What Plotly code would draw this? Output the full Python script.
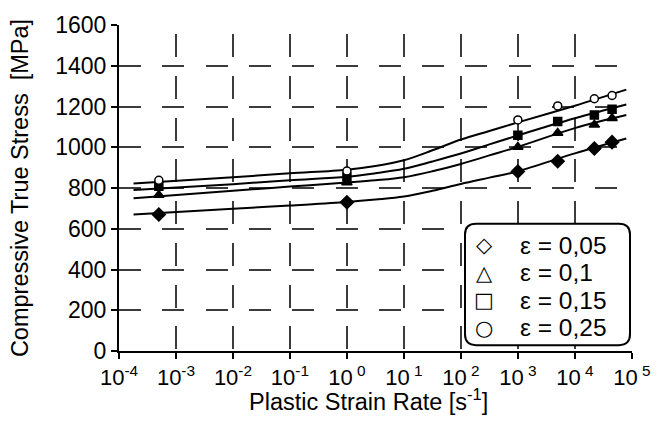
import plotly.graph_objects as go

# Strain-rate axis (s^-1) and tick labels
decades = [-4, -3, -2, -1, 0, 1, 2, 3, 4, 5]
tick_vals = [10.0 ** d for d in decades]
tick_text = ["10<sup>-4</sup>", "10<sup>-3</sup>", "10<sup>-2</sup>", "10<sup>-1</sup>",
             "10<sup>\u00a00</sup>", "10<sup>\u00a01</sup>", "10<sup>\u00a02</sup>",
             "10<sup>\u00a03</sup>", "10<sup>\u00a04</sup>", "10<sup>\u00a05</sup>"]

# Measured points: strain rate vs compressive true stress (MPa)
rate_pts = [5e-4, 1.0, 1e3, 5e3, 2.2e4, 4.5e4]
stress_005 = [670, 730, 881, 931, 994, 1025]
stress_010 = [766, 827, 1001, 1070, 1110, 1142]
stress_015 = [809, 854, 1059, 1126, 1158, 1187]
stress_025 = [838, 883, 1134, 1203, 1238, 1254]

# Fitted curves through each strain level
rate_fit = [1.8e-4, 1e-2, 1e-1, 1.0, 3.16, 1e1, 31.6, 1e2, 316, 1e3, 1e4, 8e4]
fit_005 = [670, 698, 714, 731, 743, 758, 786, 820, 851, 882, 970, 1043]
fit_010 = [750, 786, 807, 827, 838, 853, 882, 918, 960, 1002, 1094, 1158]
fit_015 = [790, 819, 838, 855, 872, 894, 930, 969, 1014, 1058, 1142, 1210]
fit_025 = [822, 853, 872, 890, 908, 936, 985, 1038, 1080, 1122, 1204, 1283]

labels = ["\u03b5 = 0,05", "\u03b5 = 0,1", "\u03b5 = 0,15", "\u03b5 = 0,25"]
legend_glyphs = ["\u25c7", "\u25b3", "\u25a1", "\u25cb"]
x_title = "Plastic Strain Rate [s<sup>-1</sup>]"
y_title = "Compressive True Stress\u00a0\u00a0[MPa]"

FONT = "Liberation Sans, Arial, sans-serif"
W, H = 664, 421
ML, MR, MT, MB = 119, 32, 18, 70

fig = go.Figure()

for fy in [fit_005, fit_010, fit_015, fit_025]:
    fig.add_trace(go.Scatter(x=rate_fit, y=fy, mode="lines",
                             line=dict(color="black", width=2, shape="spline", smoothing=1.0),
                             showlegend=False, hoverinfo="skip"))

pts = [stress_005, stress_010, stress_015, stress_025]
symbols = ["diamond", "triangle-up", "square", "circle"]
fills = ["black", "black", "black", "white"]
sizes = [10, 9, 8, 8]
for sy, sym, fc, sz in zip(pts, symbols, fills, sizes):
    fig.add_trace(go.Scatter(x=rate_pts, y=sy, mode="markers",
                             marker=dict(symbol=sym, size=sz, color=fc,
                                         line=dict(color="black", width=1.5)),
                             showlegend=False))

# Pixel -> paper helpers for the legend panel and axis caption
pw, ph = W - ML - MR, H - MT - MB
def px_x(p):
    return (p - ML) / pw
def px_y(p):
    return (H - MB - p) / ph

# Rounded legend frame
x0, x1, y0, y1 = px_x(465), px_x(630), px_y(345), px_y(221)
rx, ry = 11 / pw, 11 / ph
path = (f"M{x0+rx},{y1} L{x1-rx},{y1} Q{x1},{y1} {x1},{y1-ry} "
        f"L{x1},{y0+ry} Q{x1},{y0} {x1-rx},{y0} L{x0+rx},{y0} "
        f"Q{x0},{y0} {x0},{y0+ry} L{x0},{y1-ry} Q{x0},{y1} {x0+rx},{y1} Z")
fig.add_shape(type="path", path=path, xref="paper", yref="paper",
              line=dict(color="black", width=2), fillcolor="white", layer="above")

row_y = [243, 271, 299, 327]
for glyph, lab, ry_px in zip(legend_glyphs, labels, row_y):
    fig.add_annotation(x=px_x(484), y=px_y(ry_px), xref="paper", yref="paper",
                       text=glyph, showarrow=False, xanchor="center", yanchor="middle",
                       font=dict(family="DejaVu Sans", size=21, color="black"))
    fig.add_annotation(x=px_x(518), y=px_y(ry_px), xref="paper", yref="paper",
                       text=lab, showarrow=False, xanchor="left", yanchor="middle",
                       font=dict(family=FONT, size=24.5, color="black"))

# x-axis caption
fig.add_annotation(x=px_x(368), y=px_y(401), xref="paper", yref="paper",
                   text=x_title, showarrow=False, xanchor="center", yanchor="middle",
                   font=dict(family=FONT, size=23.5, color="black"))

grid_col = "#3c3c3c"
fig.update_layout(
    width=W, height=H,
    margin=dict(l=ML, r=MR, t=MT, b=MB, pad=0),
    paper_bgcolor="white", plot_bgcolor="white",
    font=dict(family=FONT, color="black", size=22),
    showlegend=False,
    xaxis=dict(type="log", range=[-4, 5.003], tickvals=tick_vals, ticktext=tick_text,
               showline=True, linecolor="black", linewidth=2,
               ticks="outside", ticklen=6, tickwidth=1.5, tickcolor="black",
               showgrid=True, gridcolor=grid_col, gridwidth=1.5,
               griddash="0px,9.3px,23px,9.4px", zeroline=False,
               tickfont=dict(size=22)),
    yaxis=dict(range=[0, 1600], dtick=200, tick0=0,
               showline=True, linecolor="black", linewidth=2,
               ticks="outside", ticklen=6, tickwidth=1.5, tickcolor="black",
               showgrid=True, gridcolor=grid_col, gridwidth=1.5,
               griddash="22px,21.3px", zeroline=False,
               tickfont=dict(size=23),
               title=dict(text=y_title, font=dict(size=23.5), standoff=20)),
)

fig.write_html("out.html")
